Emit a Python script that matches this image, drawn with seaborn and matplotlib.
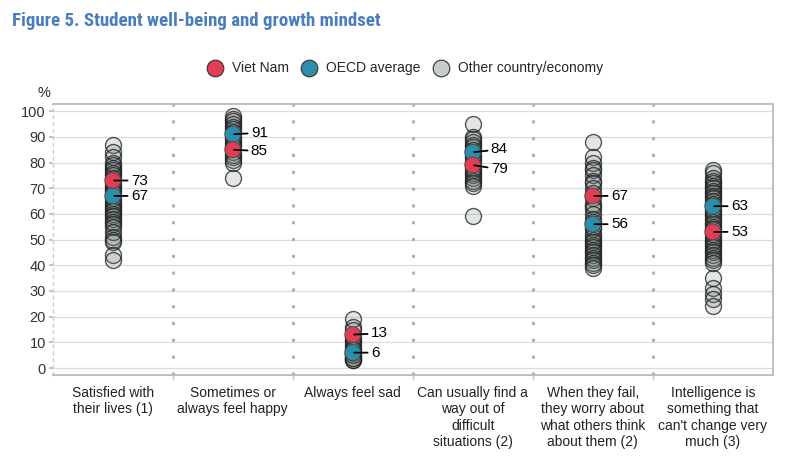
import numpy as np
import pandas as pd
import matplotlib
matplotlib.use("Agg")
import matplotlib.pyplot as plt
import seaborn as sns
from matplotlib.lines import Line2D
from matplotlib import font_manager

categories = [
    "Satisfied with\ntheir lives (1)",
    "Sometimes or\nalways feel happy",
    "Always feel sad",
    "Can usually find a\nway out of\ndifficult\nsituations (2)",
    "When they fail,\nthey worry about\nwhat others think\nabout them (2)",
    "Intelligence is\nsomething that\ncan't change very\nmuch (3)",
]
viet_nam = [73, 85, 13, 79, 67, 53]
oecd = [67, 91, 6, 84, 56, 63]
others = [
    [87, 84, 82, 80, 79, 78, 77, 76, 75, 74, 72, 71, 70, 69, 68, 66, 65, 64, 63, 62,
     61, 60, 59, 58, 57, 56, 55, 53, 51, 50, 49, 44, 42],
    [98, 97, 96, 95, 94, 93, 92, 90, 89, 88, 87, 86, 84, 83, 82, 81, 80, 74],
    [19, 16, 15, 12, 11, 10, 9, 8, 7, 6, 5, 5, 4, 4, 3, 3],
    [95, 90, 89, 88, 87, 86, 85, 83, 82, 81, 80, 78, 77, 76, 75, 74, 73, 72, 71, 59],
    [88, 82, 80, 78, 77, 75, 73, 72, 70, 68, 66, 64, 63, 62, 60, 58, 57, 55, 54, 52,
     51, 50, 49, 48, 47, 46, 45, 44, 43, 42, 41, 40, 39],
    [77, 76, 74, 73, 72, 71, 70, 69, 68, 67, 66, 65, 64, 62, 61, 60, 59, 58, 57, 56,
     55, 54, 52, 51, 50, 49, 48, 47, 46, 45, 44, 43, 42, 41, 35, 31, 29, 27, 24],
]
y_ticks = list(range(0, 101, 10))

# label nudges (points) for VN / OECD value labels
vn_dy = [0, -1, 1, -3, 0, 0]
oecd_dy = [0, 1, 0, 2, 0, 0]

sns.set_theme(style="white")
plt.rcParams["font.family"] = ["Liberation Sans", "DejaVu Sans"]

names = {f.name for f in font_manager.fontManager.ttflist}
narrow = None
for cand in ["Liberation Sans Narrow", "Arial Narrow", "Roboto Condensed",
             "DejaVu Sans Condensed", "Open Sans Condensed"]:
    if cand in names:
        narrow = cand
        break

fig = plt.figure(figsize=(8, 4.59), dpi=100)
ax = fig.add_axes([0.066, 0.183, 0.900, 0.590])

other_df = pd.DataFrame(
    [(categories[i], v) for i, vals in enumerate(others) for v in vals],
    columns=["cat", "value"],
)
main_df = pd.DataFrame(
    [(categories[i], v, "OECD average") for i, v in enumerate(oecd)]
    + [(categories[i], v, "Viet Nam") for i, v in enumerate(viet_nam)],
    columns=["cat", "value", "group"],
)

red = "#e13d56"
teal = "#2a8fab"

n_before = len(ax.collections)
sns.stripplot(data=other_df, x="cat", y="value", order=categories, jitter=False,
              color="#5f6b6b", size=11.5, linewidth=1.0, edgecolor="#222222",
              ax=ax, zorder=3)
for coll in ax.collections[n_before:]:
    coll.set_facecolor((0.38, 0.44, 0.44, 0.18))
    coll.set_edgecolor((0.12, 0.12, 0.12, 0.75))

sns.stripplot(data=main_df, x="cat", y="value", order=categories, jitter=False,
              hue="group", palette={"Viet Nam": red, "OECD average": teal},
              hue_order=["OECD average", "Viet Nam"],
              size=11.5, linewidth=0.6, edgecolor="#444444", ax=ax, zorder=5,
              legend=False)

for i in range(len(categories)):
    for val, dy in ((viet_nam[i], vn_dy[i]), (oecd[i], oecd_dy[i])):
        ax.annotate(str(val), xy=(i, val), xytext=(13, dy), textcoords="offset points",
                    fontsize=11, color="black", va="center", ha="left",
                    arrowprops=dict(arrowstyle="-", color="black", lw=1.3,
                                    shrinkA=0, shrinkB=1),
                    zorder=6)

ax.set_xlim(-0.5, len(categories) - 0.5)
ax.set_ylim(-2.7, 102.7)
ax.set_yticks(y_ticks)
ax.set_yticklabels([str(t) for t in y_ticks], fontsize=10.5, color="#333333")
ax.set_xticks(range(len(categories)))
ax.set_xticklabels(categories, fontsize=10, color="#222222", linespacing=1.2)
ax.tick_params(axis="x", length=0, pad=8)
ax.tick_params(axis="y", length=3, color="#bbbbbb", pad=2, left=True)
ax.set_xticks([i + 0.5 for i in range(len(categories) - 1)], minor=True)
ax.tick_params(axis="x", which="minor", length=3, color="#bbbbbb", bottom=True)
ax.set_xlabel("")
ax.set_ylabel("")

for t in y_ticks:
    ax.axhline(t, color="#dcdcdc", lw=0.9, zorder=0)
for i in range(len(categories) - 1):
    ax.axvline(i + 0.5, color="#b0b0b0", lw=2.2, linestyle=(0, (1, 4.5)), zorder=1)

for side in ("top", "right", "bottom"):
    ax.spines[side].set_color("#b5b5b5")
    ax.spines[side].set_linewidth(1.2)
ax.spines["left"].set_color("#cfcfcf")
ax.spines["left"].set_linestyle((0, (2, 3)))
ax.spines["left"].set_linewidth(1.0)

fig.text(0.047, 0.797, "%", fontsize=10.5, color="#222222", ha="left", va="center")
title_kw = dict(fontweight="bold", color="#4a7dbf", ha="left", va="center")
if narrow:
    fig.text(0.015, 0.955, "Figure 5. Student well-being and growth mindset",
             fontsize=13.6, family=[narrow, "Liberation Sans"], **title_kw)
else:
    fig.text(0.015, 0.955, "Figure 5. Student well-being and growth mindset",
             fontsize=13, family=["Liberation Sans"], **title_kw)

handles = [
    Line2D([], [], marker="o", ls="", markersize=12, markerfacecolor=red,
           markeredgecolor="#333333", markeredgewidth=0.8),
    Line2D([], [], marker="o", ls="", markersize=12, markerfacecolor=teal,
           markeredgecolor="#333333", markeredgewidth=0.8),
    Line2D([], [], marker="o", ls="", markersize=12, markerfacecolor="#c8cccd",
           markeredgecolor="#333333", markeredgewidth=0.8),
]
fig.legend(handles, ["Viet Nam", "OECD average", "Other country/economy"],
           loc="center", bbox_to_anchor=(0.506, 0.851), ncol=3, frameon=False,
           fontsize=10, handletextpad=0.6, columnspacing=0.9, handlelength=1.2)

fig.savefig("out.png", dpi=100, facecolor="white")
